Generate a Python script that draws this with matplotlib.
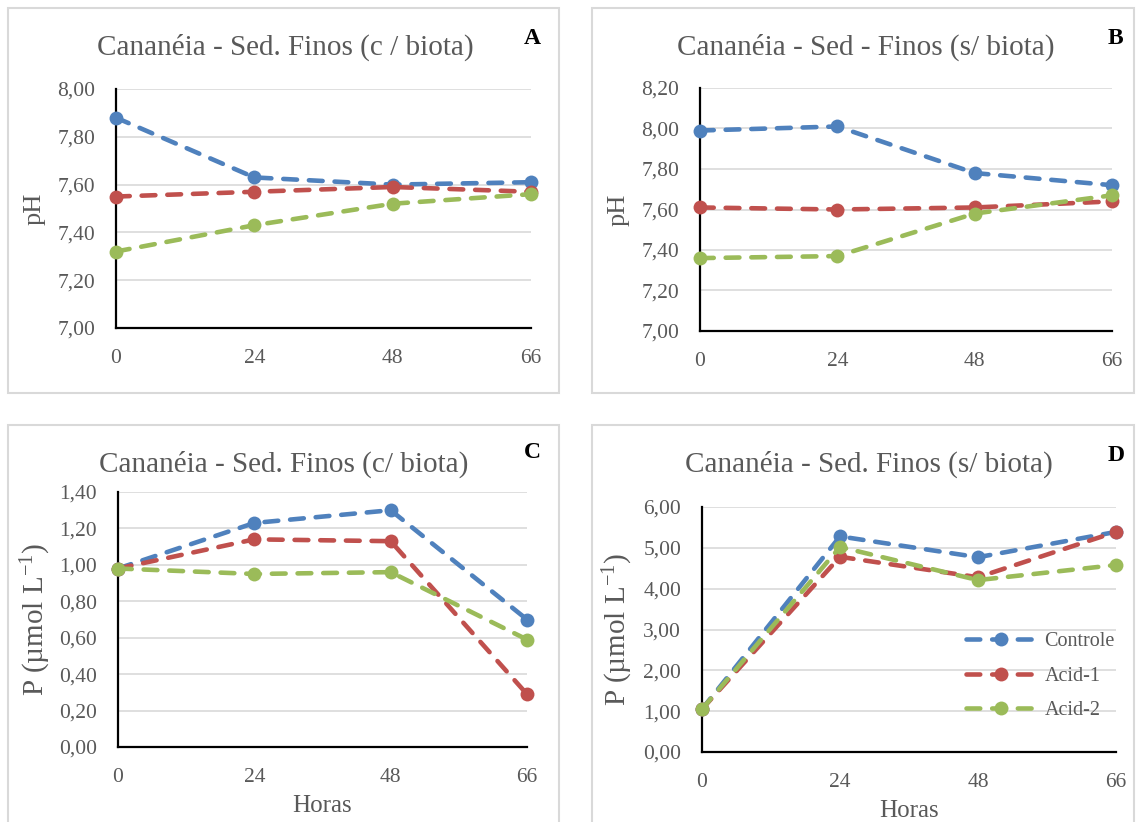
import matplotlib
matplotlib.use("Agg")
import matplotlib.pyplot as plt
from matplotlib.patches import Rectangle
from matplotlib.ticker import FuncFormatter, MultipleLocator

plt.rcParams['font.family'] = ['Liberation Serif', 'DejaVu Serif']
plt.rcParams['mathtext.fontset'] = 'custom'
plt.rcParams['mathtext.rm'] = 'Liberation Serif'
plt.rcParams['mathtext.it'] = 'Liberation Serif:italic'
plt.rcParams['mathtext.bf'] = 'Liberation Serif:bold'

# ---- data ----
horas = ['0', '24', '48', '66']
series_names = ['Controle', 'Acid-1', 'Acid-2']

ph_cbiota_controle = [7.88, 7.63, 7.60, 7.61]
ph_cbiota_acid1 = [7.55, 7.57, 7.59, 7.57]
ph_cbiota_acid2 = [7.32, 7.43, 7.52, 7.56]

ph_sbiota_controle = [7.99, 8.01, 7.78, 7.72]
ph_sbiota_acid1 = [7.61, 7.60, 7.61, 7.64]
ph_sbiota_acid2 = [7.36, 7.37, 7.58, 7.67]

p_cbiota_controle = [0.98, 1.23, 1.30, 0.70]
p_cbiota_acid1 = [0.98, 1.14, 1.13, 0.29]
p_cbiota_acid2 = [0.98, 0.95, 0.96, 0.59]

p_sbiota_controle = [1.05, 5.28, 4.77, 5.39]
p_sbiota_acid1 = [1.05, 4.78, 4.28, 5.39]
p_sbiota_acid2 = [1.05, 5.02, 4.21, 4.58]

colors = ['#4F81BD', '#C0504D', '#9BBB59']
GRAY = '#595959'
W, H = 1138, 822

fig = plt.figure(figsize=(W / 100, H / 100), dpi=100)


def fx(x):
    return x / W


def fy(y):
    return 1 - y / H


def frame(x0, y0, x1, y1):
    fig.patches.append(Rectangle((fx(x0), fy(y1)), fx(x1) - fx(x0), fy(y0) - fy(y1),
                                 transform=fig.transFigure, fill=False,
                                 edgecolor='#D9D9D9', linewidth=1.5, zorder=0))


def panel(box, data, ylim, ystep, title, tcenter, letter, lpos, ylabel, ylabel_size,
          ylabel_x, xlabel=False):
    l, t, r, b = box
    ax = fig.add_axes([fx(l), fy(b), fx(r) - fx(l), fy(t) - fy(b)])
    x = list(range(len(horas)))
    for vals, c, name in zip(data, colors, series_names):
        ax.plot(x, vals, color=c, linewidth=3.3, linestyle=(0, (3.0, 2.6)),
                dash_capstyle='round', marker='o', markersize=10,
                markeredgewidth=0, clip_on=False, label=name, zorder=3)
    ax.set_xlim(0, len(horas) - 1)
    ax.set_ylim(*ylim)
    ax.set_xticks(x)
    ax.set_xticklabels(horas)
    ax.yaxis.set_major_locator(MultipleLocator(ystep))
    ax.yaxis.set_major_formatter(FuncFormatter(lambda v, p: f"{v:.2f}".replace('.', ',')))
    ax.grid(axis='y', color='#D9D9D9', linewidth=1.2, zorder=1)
    ax.set_axisbelow(True)
    for s in ('top', 'right'):
        ax.spines[s].set_visible(False)
    for s in ('left', 'bottom'):
        ax.spines[s].set_color('black')
        ax.spines[s].set_linewidth(1.6)
        ax.spines[s].set_zorder(2)
    ax.tick_params(axis='both', length=0, labelsize=15.5, labelcolor=GRAY)
    ax.tick_params(axis='x', pad=15)
    ax.tick_params(axis='y', pad=15)
    ax.set_ylabel(ylabel, fontsize=ylabel_size, color=GRAY)
    ax.yaxis.set_label_coords((ylabel_x - l) / (r - l), 0.5)
    if xlabel:
        ax.set_xlabel('Horas', fontsize=18, color=GRAY, labelpad=6)
    fig.text(fx(tcenter[0]), fy(tcenter[1]), title, fontsize=21, color=GRAY,
             ha='center', va='center')
    fig.text(fx(lpos[0]), fy(lpos[1]), letter, fontsize=17, fontweight='bold',
             color='black', ha='center', va='center')
    return ax


frame(8, 8, 559, 393)
frame(592, 8, 1134, 393)
frame(8, 425, 559, 840)
frame(592, 425, 1134, 840)

p_label = r'$\mathregular{P\ (µmol\ L^{-1})}$'

panel((116, 89, 531, 328),
      [ph_cbiota_controle, ph_cbiota_acid1, ph_cbiota_acid2],
      (7.0, 8.0), 0.2, 'Cananéia - Sed. Finos (c / biota)', (285, 47),
      'A', (532, 38), 'pH', 19, 46)

panel((700, 88, 1112, 331),
      [ph_sbiota_controle, ph_sbiota_acid1, ph_sbiota_acid2],
      (7.0, 8.2), 0.2, 'Cananéia - Sed - Finos (s/ biota)', (866, 47),
      'B', (1115, 38), 'pH', 19, 630)

panel((118, 492, 527, 747),
      [p_cbiota_controle, p_cbiota_acid1, p_cbiota_acid2],
      (0.0, 1.4), 0.2, 'Cananéia - Sed. Finos (c/ biota)', (284, 464),
      'C', (532, 452), p_label, 21, 53, xlabel=True)

axD = panel((702, 507, 1116, 752),
            [p_sbiota_controle, p_sbiota_acid1, p_sbiota_acid2],
            (0.0, 6.0), 1.0, 'Cananéia - Sed. Finos (s/ biota)', (869, 464),
            'D', (1116, 455), p_label, 21, 635, xlabel=True)

axD.legend(loc='center left', bbox_to_anchor=(fx(966), fy(676)),
           bbox_transform=fig.transFigure, frameon=False, fontsize=14.5,
           handlelength=3.5, handletextpad=0.4, labelspacing=0.75,
           borderpad=0, borderaxespad=0, labelcolor=GRAY)

fig.savefig('out.png', dpi=100, facecolor='white')
